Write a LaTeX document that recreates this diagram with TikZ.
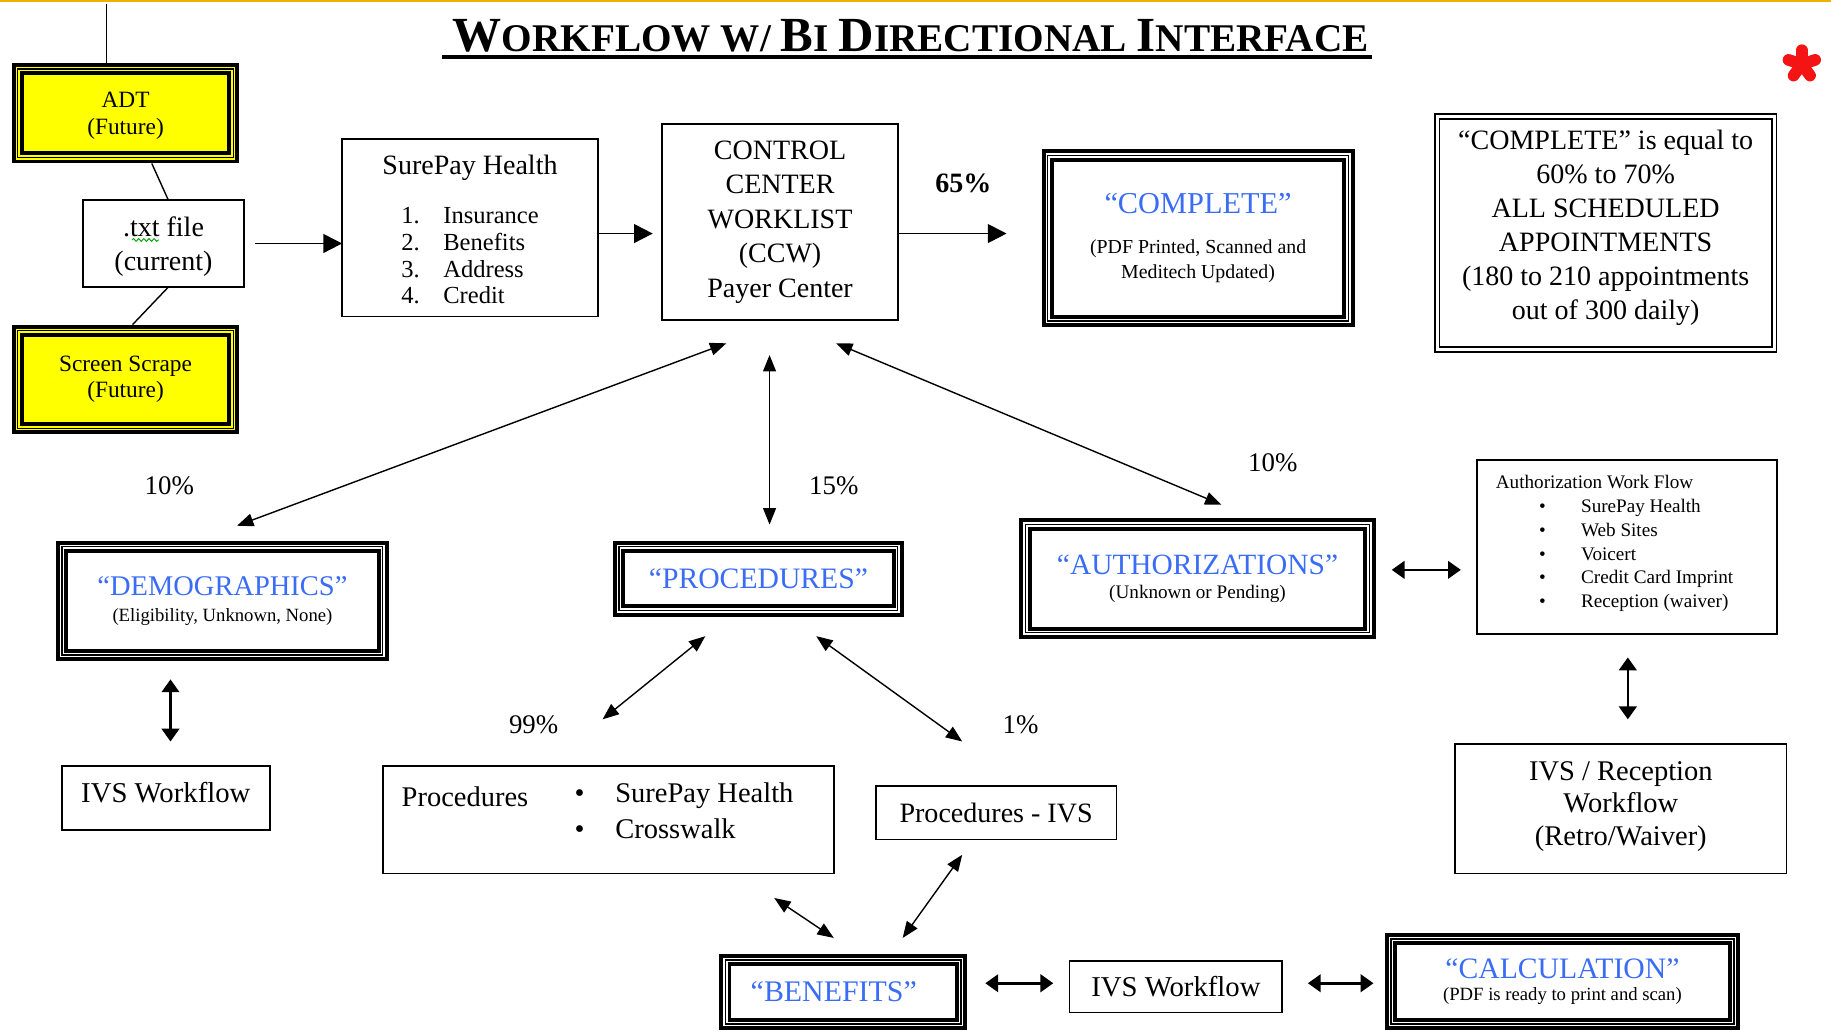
\documentclass[tikz,border=0pt]{standalone}
\usepackage{fontspec}
\setmainfont{Liberation Serif}
\usetikzlibrary{arrows.meta,decorations.pathmorphing}
\definecolor{ttlblue}{RGB}{58,108,245}
\definecolor{topbar}{RGB}{240,178,0}
\definecolor{astred}{RGB}{245,20,20}
\definecolor{boxyellow}{RGB}{255,255,0}
\newcommand\fsz[2]{\fontsize{#1}{#2}\selectfont}
\newcommand\ttlsc[2]{{\fsz{21}{21}#1}#2}
\begin{document}
\begin{tikzpicture}[x=0.5pt,y=-0.5pt,
  plainbox/.style={draw, line width=0.7pt, inner sep=0pt, outer sep=0pt, align=center},
  tribox/.style={draw, line width=1.7pt, double=white, double distance=1.8pt, inner sep=0pt, outer sep=0pt, align=center},
  ybox/.style={tribox, double=boxyellow, fill=boxyellow},
  notebox/.style={draw, line width=0.7pt, double=white, double distance=1.3pt, inner sep=0pt, outer sep=0pt, align=center},
  midline/.style={draw, line width=0.6pt},
  sz/.style 2 args={minimum width=#1*0.5pt, minimum height=#2*0.5pt},
  tsz/.style 2 args={minimum width=#1*0.5pt-5.2pt, minimum height=#2*0.5pt-5.2pt},
  nsz/.style 2 args={minimum width=#1*0.5pt-2.7pt, minimum height=#2*0.5pt-2.7pt},
  plainline/.style={line width=0.6pt},
  onearrow/.style={line width=0.8pt, -{Triangle[length=8pt,width=8pt]}},
  biarrow/.style={line width=0.6pt, {Triangle[length=7pt,width=5.5pt]}-{Triangle[length=7pt,width=5.5pt]}},
  fatarrow/.style={line width=1.1pt, {Triangle[length=5.5pt,width=7.5pt]}-{Triangle[length=5.5pt,width=7.5pt]}},
  lbl/.style={inner sep=0pt, font=\fsz{11.5}{13}}
]
\useasboundingbox (0,0) rectangle (1568,884);
\fill[topbar] (0,0) rectangle (1568,2);

% title
\node[inner sep=0pt, anchor=base, font=\bfseries\fsz{16.8}{18}] (title) at (780,44)
  {\ttlsc{W}{ORKFLOW} W/ \ttlsc{B}{I} \ttlsc{D}{IRECTIONAL} \ttlsc{I}{NTERFACE}};
\draw[line width=1.6pt] ([shift={(-9,4.5)}]title.base west) -- ([shift={(2,4.5)}]title.base east);

% red asterisk
\coordinate (astc) at (1543,55);
\foreach \a in {-90,-18,-162,54,126}
  \draw[astred, line width=5pt, line cap=round] (astc) -- ++(\a:12);

% left column
\node[ybox, tsz={195}{86}, font=\fsz{10}{11.5}] (adt) at (107.5,97) {\rule{0pt}{9pt}ADT\\(Future)};
\draw[midline] (adt.north west) rectangle (adt.south east);
\node[plainbox, sz={138}{75}, font=\fsz{12}{14.5}] (txt) at (140,208.5) {\rule{0pt}{11.5pt}.txt file\\(current)};
\draw[green!65!black, line width=0.4pt, decorate, decoration={snake, amplitude=0.6pt, segment length=2.2pt}]
  ([shift={(-27,-3)}]txt.center) -- ([shift={(-4,-3)}]txt.center);
\node[ybox, tsz={195}{94}, font=\fsz{10}{11}] (scr) at (107.5,325) {Screen Scrape\\(Future)};
\draw[midline] (scr.north west) rectangle (scr.south east);

\coordinate (topend) at (91,3);
\draw[plainline] ([shift={(-16.5,-5.2)}]adt.north) -- (topend);
\draw[plainline] ([shift={(22.5,5.2)}]adt.south) -- ([shift={(4,0)}]txt.north);
\draw[plainline] ([shift={(4,0)}]txt.south) -- ([shift={(6,-5.2)}]scr.north);

% SurePay Health
\node[plainbox, sz={219}{152}, font=\fsz{12}{14}] (sph) at (402.5,195)
  {\rule{0pt}{13.2pt}SurePay Health\\[7pt]{\fsz{10.5}{11.5}\begin{tabular}[t]{@{}l@{}}\makebox[18pt][l]{1.}Insurance\\ \makebox[18pt][l]{2.}Benefits\\ \makebox[18pt][l]{3.}Address\\ \makebox[18pt][l]{4.}Credit\end{tabular}}};

% CCW
\node[plainbox, sz={202}{168}, font=\fsz{12}{14.75}] (ccw) at (668,190)
  {CONTROL\\CENTER\\WORKLIST\\(CCW)\\Payer Center};

% COMPLETE
\node[tribox, tsz={268}{152}, font=\fsz{8.5}{11}] (comp) at (1026,204)
  {{\fsz{13}{13}\color{ttlblue}“COMPLETE”}\\[6pt](PDF Printed, Scanned and\\Meditech Updated)};
\draw[midline] (comp.north west) rectangle (comp.south east);

% note
\node[notebox, nsz={294}{205}, font=\fsz{12}{14.5}] (note) at (1375,199.5)
  {“COMPLETE” is equal to\\60\% to 70\%\\ALL SCHEDULED\\APPOINTMENTS\\(180 to 210 appointments\\out of 300 daily)\rule[-7pt]{0pt}{0pt}};

% middle row
\node[tribox, tsz={285}{103}, font=\fsz{8}{11}] (demo) at (190.5,514.5)
  {{\fsz{12.2}{12.2}\color{ttlblue}“DEMOGRAPHICS”}\\(Eligibility, Unknown, None)};
\draw[midline] (demo.north west) rectangle (demo.south east);
\node[tribox, tsz={249}{65}, font=\fsz{12.7}{14}, text=ttlblue] (proc) at (649.5,495.5) {“PROCEDURES”};
\draw[midline] (proc.north west) rectangle (proc.south east);
\node[tribox, tsz={305}{103}, font=\fsz{8.2}{10.5}] (auth) at (1025.5,495.5)
  {{\fsz{12.6}{12.6}\color{ttlblue}“AUTHORIZATIONS”}\\(Unknown or Pending)};
\draw[midline] (auth.north west) rectangle (auth.south east);

\node[plainbox, sz={257}{149}, font=\fsz{8.2}{10.2}] (awf) at (1393.5,468.5)
  {\begin{minipage}[c][65pt][t]{112.5pt}\raggedright
   \rule{0pt}{7.5pt}Authorization Work Flow\\
   \hspace*{18.5pt}\makebox[18pt][l]{\textbullet}SurePay Health\\
   \hspace*{18.5pt}\makebox[18pt][l]{\textbullet}Web Sites\\
   \hspace*{18.5pt}\makebox[18pt][l]{\textbullet}Voicert\\
   \hspace*{18.5pt}\makebox[18pt][l]{\textbullet}Credit Card Imprint\\
   \hspace*{18.5pt}\makebox[18pt][l]{\textbullet}Reception (waiver)
   \end{minipage}};

% lower rows
\node[plainbox, sz={178}{55}, font=\fsz{12.3}{14}] (ivs1) at (142,683.5) {IVS Workflow\rule[-5pt]{0pt}{0pt}};
\node[plainbox, sz={386}{92}, font=\fsz{12.2}{15.5}] (procb) at (521,702)
  {\begin{minipage}[c][32pt][t]{177pt}\raggedright
   \raisebox{-2pt}{\makebox[74pt][l]{Procedures}}\makebox[17.5pt][l]{\textbullet}SurePay Health\\
   \hspace*{74pt}\makebox[17.5pt][l]{\textbullet}Crosswalk
   \end{minipage}};
\node[plainbox, sz={206}{46}, font=\fsz{12}{14}] (pivs) at (853,696) {Procedures - IVS};
\node[plainbox, sz={284}{111}, font=\fsz{12.2}{14}] (ivsr) at (1388,692.5) {IVS / Reception\\Workflow\\(Retro/Waiver)\rule[-4.5pt]{0pt}{0pt}};

\node[tribox, tsz={212}{65}, font=\fsz{12.8}{14}, text=ttlblue] (ben) at (722,849.5) {\hspace*{-8pt}“BENEFITS”};
\draw[midline] (ben.north west) rectangle (ben.south east);
\node[plainbox, sz={182}{44}, font=\fsz{12.3}{14}] (ivs2) at (1007,845) {IVS Workflow};
\node[tribox, tsz={304}{83}, font=\fsz{8}{9.5}] (calc) at (1338,840.5)
  {{\fsz{12.7}{12.7}\color{ttlblue}“CALCULATION”}\\(PDF is ready to print and scan)};
\draw[midline] (calc.north west) rectangle (calc.south east);

% percent labels
\node[lbl, font=\bfseries\fsz{12}{14}] (p65) at (825,157) {65\%};
\node[lbl] (p10a) at (145,416) {10\%};
\node[lbl] (p15) at (714,416) {15\%};
\node[lbl] (p10b) at (1090,396) {10\%};
\node[lbl] (p99) at (457,621) {99\%};
\node[lbl] (p1) at (874,621) {1\%};

% arrows
\draw[onearrow] ([shift={(9,0)}]txt.east) -- (txt.east -| sph.west);
\draw[onearrow, shorten >=4pt] (sph.east |- 0,200) -- (ccw.west |- 0,200);
\draw[onearrow, shorten >=17.6pt] (ccw.east |- 0,200) -- (comp.west |- 0,200);

\draw[biarrow] ([shift={(-46,20)}]ccw.south) -- ([shift={(12.5,-18)}]demo.north);
\draw[biarrow] ([shift={(-9,30)}]ccw.south) -- ([shift={(9.5,-19)}]proc.north);
\draw[biarrow] ([shift={(48,20)}]ccw.south) -- ([shift={(20.5,-17)}]auth.north);
\draw[fatarrow] ([shift={(19,-7.5)}]auth.east) -- ([shift={(-14,19.5)}]awf.west);
\draw[fatarrow] ([shift={(0.5,20)}]awf.south) -- ([shift={(6,-21)}]ivsr.north);
\draw[fatarrow] ([shift={(-44.5,21)}]demo.south) -- ([shift={(4,-21)}]ivs1.north);
\draw[biarrow] ([shift={(-45.5,22)}]proc.south) -- ([shift={(-5,-40)}]procb.north);
\draw[biarrow] ([shift={(49.5,22)}]proc.south) -- ([shift={(-29,-38)}]pivs.north);
\draw[biarrow] ([shift={(142,21)}]procb.south) -- ([shift={(-8,-19)}]ben.north);
\draw[biarrow] ([shift={(-29,13)}]pivs.south) -- ([shift={(51,-19)}]ben.north);
\draw[fatarrow] ([shift={(21,-7.5)}]ben.east) -- ([shift={(-14,-3)}]ivs2.west);
\draw[fatarrow] ([shift={(22,-3)}]ivs2.east) -- ([shift={(-15,1.5)}]calc.west);
\end{tikzpicture}
\end{document}
